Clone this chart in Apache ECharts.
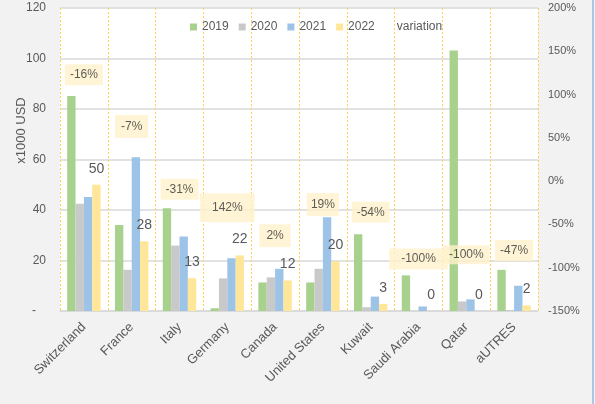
<!DOCTYPE html>
<html>
<head>
<meta charset="utf-8">
<script src="https://cdn.jsdelivr.net/npm/echarts@6/dist/echarts.min.js"></script>
<style>html,body{margin:0;padding:0;background:#f2f2f2;}#c{width:595px;height:404px;}</style>
</head>
<body>
<div id="c"></div>
<script>
const categories = ['Switzerland','France','Italy','Germany','Canada','United States','Kuwait','Saudi Arabia','Qatar','aUTRES'];
const v2019 = [85.1, 34.1, 40.7, 1.1, 11.3, 11.3, 30.4, 14.1, 103.2, 16.3];
const v2020 = [42.5, 16.3, 25.9, 12.9, 13.3, 16.7, 1.5, 0, 3.8, 0.4];
const v2021 = [45.1, 60.9, 29.5, 20.9, 16.7, 37.1, 5.7, 1.8, 4.6, 10.0];
const v2022 = [50.0, 27.6, 13.0, 22.0, 12.1, 19.6, 2.8, 0, 0, 2.2];
const variation = ['-16%','-7%','-31%','142%','2%','19%','-54%','-100%','-100%','-47%'];
const variationLabelAt = [93.6, 73.1, 48.2, 40.9, 29.8, 42.2, 39.1, 20.6, 22.3, 24.0];
const leftTicks = [0, 20, 40, 60, 80, 100, 120];
const rightTicks = [-150, -100, -50, 0, 50, 100, 150, 200];

const font = 'Liberation Sans, Arial, sans-serif';
const chart = echarts.init(document.getElementById('c'), null, {renderer: 'canvas'});

// label box padding (style only, per category index)
const boxPadding = {0: [5, 5, 4, 5], 1: [6, 6, 5, 6], 3: [9, 12, 8, 12], 4: [6, 7, 5, 7], 5: [6, 4, 5, 4], 7: [5, 12, 4, 12], 8: [4, 6, 3, 6]};

function barSeries(name, data, color, extra) {
  return Object.assign({
    name: name, type: 'bar', data: data, barGap: '0%', barCategoryGap: '30%',
    itemStyle: {color: color}
  }, extra || {});
}

chart.setOption({
  backgroundColor: '#f2f2f2',
  animation: false,
  textStyle: {fontFamily: font},
  graphic: [{type: 'rect', shape: {x: 592, y: 0, width: 2, height: 404}, style: {fill: '#a9c8e8'}, silent: true}],
  legend: {
    left: 185, top: 16, itemWidth: 7, itemHeight: 7, itemGap: 10, icon: 'rect',
    textStyle: {color: '#595959', fontSize: 12, fontFamily: font},
    data: ['2019', '2020', '2021', '2022', 'variation']
  },
  grid: {left: 60, right: 57, top: 8, bottom: 93, show: true, backgroundColor: '#ffffff', borderWidth: 0,
    outerBoundsMode: 'none', containLabel: false},
  xAxis: {
    type: 'category', data: categories, boundaryGap: true,
    axisLine: {show: true, lineStyle: {color: '#d9d9d9', width: 1.5}},
    axisTick: {show: false},
    axisLabel: {rotate: 45, color: '#595959', fontSize: 13, margin: 14, interval: 0, fontFamily: font},
    splitLine: {show: true, interval: 0, lineStyle: {color: '#ffd24d', type: [2, 2], width: 1}}
  },
  yAxis: [{
    type: 'value', min: leftTicks[0], max: leftTicks[leftTicks.length - 1], interval: 20,
    name: 'x1000 USD', nameLocation: 'middle', nameGap: 32, nameRotate: 90, nameMoveOverlap: false,
    nameTextStyle: {color: '#595959', fontSize: 13, padding: [0, 0, 0, 58], fontFamily: font},
    axisLine: {show: false}, axisTick: {show: false},
    axisLabel: {color: '#595959', fontSize: 12, margin: 14, fontFamily: font,
      formatter: v => v === 0 ? '-   ' : String(v)},
    splitLine: {show: true, lineStyle: {color: '#d9d9d9', width: 1.5}}
  }, {
    type: 'value', min: rightTicks[0], max: rightTicks[rightTicks.length - 1], interval: 50,
    position: 'right',
    axisLine: {show: false}, axisTick: {show: false},
    axisLabel: {color: '#595959', fontSize: 11, margin: 10, fontFamily: font, formatter: v => v + '%'},
    splitLine: {show: false}
  }],
  series: [
    barSeries('2019', v2019, '#a9d18e'),
    barSeries('2020', v2020, '#c9c9c9'),
    barSeries('2021', v2021, '#9dc3e6'),
    barSeries('2022', v2022, '#ffe699', {
      label: {show: true, position: 'top', distance: 9, color: '#595959', fontSize: 14, fontFamily: font,
        formatter: p => String(Math.round(p.value))}
    }),
    {
      name: 'variation', type: 'scatter', yAxisIndex: 0, symbolSize: 1,
      itemStyle: {color: 'rgba(0,0,0,0)'}, z: 10,
      data: variationLabelAt.map((v, i) => ({value: v, label: {padding: boxPadding[i] || [5, 5, 4, 5]}})),
      label: {show: true, position: 'inside', formatter: p => variation[p.dataIndex],
        color: '#333333', fontSize: 12, fontFamily: font, backgroundColor: '#fff2cc'}
    }
  ]
});
</script>
</body>
</html>
